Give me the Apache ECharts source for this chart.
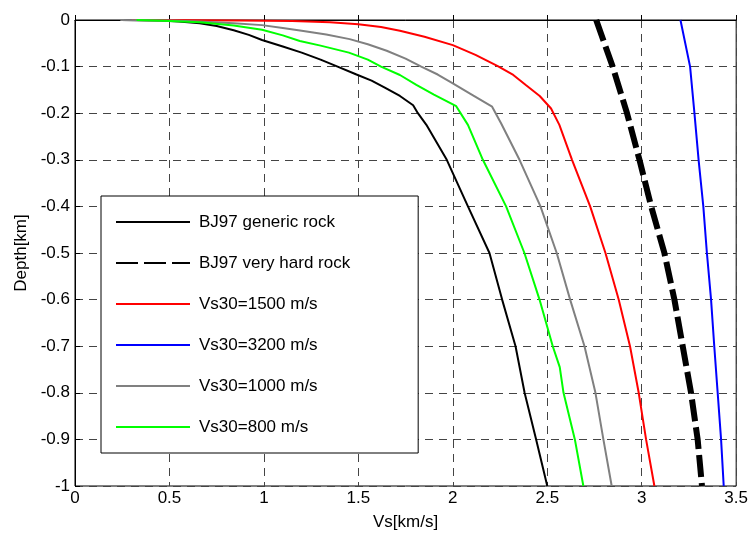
<!DOCTYPE html>
<html>
<head>
<meta charset="utf-8">
<script src="https://cdn.jsdelivr.net/npm/echarts@6/dist/echarts.min.js"></script>
<style>
html,body{margin:0;padding:0;background:#fff;}
#chart{width:751px;height:536px;}
</style>
</head>
<body>
<div id="chart"></div>
<script>
// Series names (legend order)
const seriesNames = ['BJ97 generic rock', 'BJ97 very hard rock', 'Vs30=1500 m/s', 'Vs30=3200 m/s', 'Vs30=1000 m/s', 'Vs30=800 m/s'];

// BJ97 generic rock
const genericVs    = [0.245, 0.45, 0.55, 0.66, 0.75, 0.84, 0.92, 0.99, 1.10, 1.20, 1.30, 1.39, 1.49, 1.57, 1.64, 1.72, 1.79, 1.815, 1.86, 1.968, 2.08, 2.194, 2.261, 2.332, 2.38, 2.441, 2.50];
const genericDepth = [0, -0.001, -0.003, -0.007, -0.013, -0.022, -0.032, -0.043, -0.057, -0.07, -0.085, -0.10, -0.117, -0.13, -0.145, -0.163, -0.183, -0.20, -0.225, -0.30, -0.40, -0.50, -0.60, -0.70, -0.80, -0.90, -1.00];

// BJ97 very hard rock
const hardVs    = [2.759, 2.846, 2.922, 2.988, 3.05, 3.12, 3.173, 3.217, 3.261, 3.296, 3.319];
const hardDepth = [0, -0.1, -0.2, -0.3, -0.4, -0.5, -0.6, -0.7, -0.8, -0.9, -1.0];

// Vs30 = 1500 m/s
const v1500Vs    = [0.30, 0.87, 1.15, 1.35, 1.50, 1.62, 1.72, 1.85, 2.00, 2.12, 2.238, 2.32, 2.388, 2.46, 2.52, 2.564, 2.631, 2.727, 2.808, 2.878, 2.938, 2.984, 3.023, 3.067];
const v1500Depth = [0, -0.001, -0.002, -0.005, -0.009, -0.015, -0.023, -0.036, -0.054, -0.075, -0.099, -0.118, -0.14, -0.163, -0.19, -0.225, -0.30, -0.40, -0.50, -0.60, -0.70, -0.80, -0.90, -1.00];

// Vs30 = 3200 m/s
const v3200Vs    = [3.205, 3.256, 3.279, 3.301, 3.326, 3.345, 3.367, 3.384, 3.402, 3.42, 3.434];
const v3200Depth = [0, -0.1, -0.2, -0.3, -0.4, -0.5, -0.6, -0.7, -0.8, -0.9, -1.0];

// Vs30 = 1000 m/s
const v1000Vs    = [0.24, 0.50, 0.66, 0.84, 0.99, 1.10, 1.20, 1.33, 1.454, 1.55, 1.65, 1.75, 1.833, 1.92, 2.00, 2.10, 2.208, 2.256, 2.353, 2.464, 2.55, 2.621, 2.697, 2.755, 2.797, 2.841];
const v1000Depth = [0, -0.001, -0.003, -0.007, -0.011, -0.017, -0.023, -0.031, -0.041, -0.052, -0.066, -0.083, -0.10, -0.117, -0.136, -0.16, -0.186, -0.222, -0.30, -0.40, -0.50, -0.60, -0.70, -0.80, -0.90, -1.00];

// Vs30 = 800 m/s
const v800Vs    = [0.326, 0.50, 0.66, 0.84, 0.99, 1.10, 1.19, 1.30, 1.45, 1.55, 1.62, 1.72, 1.807, 1.90, 2.018, 2.08, 2.159, 2.282, 2.379, 2.459, 2.529, 2.566, 2.586, 2.646, 2.691];
const v800Depth = [0, -0.002, -0.005, -0.012, -0.021, -0.033, -0.045, -0.055, -0.07, -0.085, -0.10, -0.118, -0.139, -0.16, -0.185, -0.225, -0.30, -0.40, -0.50, -0.60, -0.70, -0.745, -0.80, -0.90, -1.00];

// Axis tick settings
const xTicks = { min: 0, max: 3.5, interval: 0.5 };
const yTicks = { min: -1, max: 0, interval: 0.1 };

function pairs(xs, ys) { return xs.map((x, i) => [x, ys[i]]); }

const FONT = 'Liberation Sans, Arial, sans-serif';
const chart = echarts.init(document.getElementById('chart'));

function lineSeries(name, xs, ys, color, width, dash) {
  return {
    name: name, type: 'line', data: pairs(xs, ys),
    symbol: 'none', showSymbol: false, smooth: false,
    lineStyle: { color: color, width: width, type: dash || 'solid' },
    itemStyle: { color: color },
    emphasis: { disabled: true }
  };
}

chart.setOption({
  animation: false,
  backgroundColor: '#fff',
  textStyle: { fontFamily: FONT },
  grid: { left: 75, top: 20, width: 662, height: 466, show: true, borderColor: '#000', borderWidth: 1, backgroundColor: 'transparent' },
  xAxis: {
    type: 'value', min: xTicks.min, max: xTicks.max, interval: xTicks.interval,
    name: 'Vs[km/s]', nameLocation: 'middle', nameGap: 28,
    nameTextStyle: { fontSize: 17, color: '#000', fontFamily: FONT },
    axisLine: { show: true, lineStyle: { color: '#000', width: 1 } },
    axisTick: { show: true, inside: true, length: 5, lineStyle: { color: '#000' } },
    axisLabel: { fontSize: 17, color: '#000', margin: 4, fontFamily: FONT },
    splitLine: { show: true, lineStyle: { color: '#444', width: 1, type: [8, 6] } }
  },
  yAxis: {
    type: 'value', min: yTicks.min, max: yTicks.max, interval: yTicks.interval,
    name: 'Depth[km]', nameLocation: 'middle', nameGap: 45, nameRotate: 90,
    nameTextStyle: { fontSize: 17, color: '#000', fontFamily: FONT },
    axisLine: { show: true, lineStyle: { color: '#000', width: 1 } },
    axisTick: { show: true, inside: true, length: 5, lineStyle: { color: '#000' } },
    axisLabel: { fontSize: 17, color: '#000', margin: 5, fontFamily: FONT },
    splitLine: { show: true, lineStyle: { color: '#444', width: 1, type: [8, 6] } }
  },
  legend: {
    orient: 'vertical', left: 101, top: 196,
    data: seriesNames,
    itemWidth: 74, itemHeight: 17, itemGap: 24,
    padding: [17.5, 68, 17.5, 14],
    backgroundColor: '#fff', borderColor: '#000', borderWidth: 1,
    itemStyle: { color: 'transparent', borderColor: 'transparent', borderWidth: 0, opacity: 0 },
    textStyle: { fontSize: 17, color: '#000', fontFamily: FONT, padding: [0, 0, 0, 4] },
    selectedMode: false,
    z: 10
  },
  series: [
    lineSeries(seriesNames[0], genericVs, genericDepth, '#000000', 2),
    lineSeries(seriesNames[1], hardVs, hardDepth, '#000000', 6, [22, 6]),
    lineSeries(seriesNames[2], v1500Vs, v1500Depth, '#ff0000', 2),
    lineSeries(seriesNames[3], v3200Vs, v3200Depth, '#0000ff', 2),
    lineSeries(seriesNames[4], v1000Vs, v1000Depth, '#808080', 2),
    lineSeries(seriesNames[5], v800Vs, v800Depth, '#00ff00', 2)
  ]
});
</script>
</body>
</html>
